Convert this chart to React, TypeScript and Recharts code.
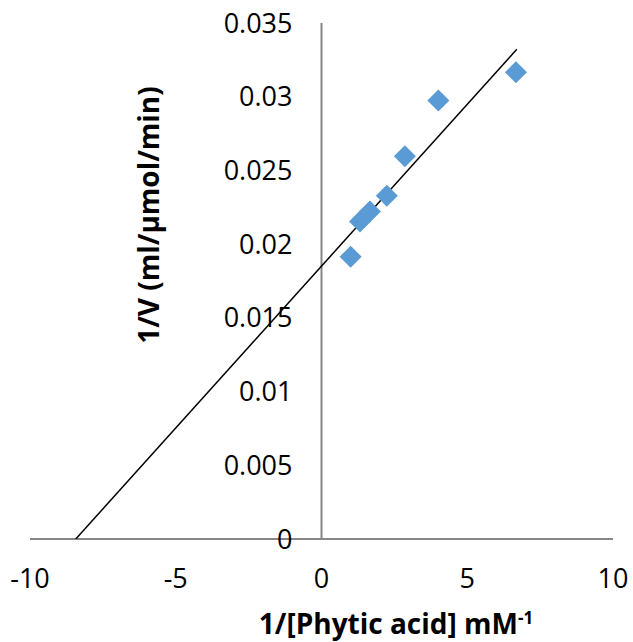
import { ScatterChart, Scatter, XAxis, YAxis, ReferenceLine, ReferenceDot } from 'recharts';

const invSubstrate = [1.0, 1.32, 1.66, 2.24, 2.86, 4.01, 6.67];
const invVelocity = [0.01915, 0.02153, 0.02221, 0.02329, 0.02596, 0.02974, 0.03166];

const trendX = [-8.43, 6.7];
const trendY = [0, 0.03322];

const xTicks = [-10, -5, 0, 5, 10];
const yTicks = [0, 0.005, 0.01, 0.015, 0.02, 0.025, 0.03, 0.035];
const yTickLabels = ['0', '0.005', '0.01', '0.015', '0.02', '0.025', '0.03', '0.035'];

const points = invSubstrate.map((x, i) => ({ x, y: invVelocity[i] }));
const trend = trendX.map((x, i) => ({ x, y: trendY[i] }));

const font = '"Open Sans", sans-serif';
const axisGrey = '#868686';

function Diamond(props: any) {
  const { cx, cy } = props;
  const r = 11;
  return (
    <polygon
      points={`${cx},${cy - r} ${cx + r},${cy} ${cx},${cy + r} ${cx - r},${cy}`}
      fill="#5B9BD5"
    />
  );
}

function XTick({ x, y, payload }: any) {
  return (
    <text x={x} y={y + 49} textAnchor="middle" fontSize={27} fontFamily={font} fill="#000">
      {payload.value}
    </text>
  );
}

export default function App() {
  return (
    <div style={{ position: 'absolute', left: 0, top: 0, width: 633, height: 642, background: '#fff', overflow: 'hidden' }}>
      <ScatterChart width={633} height={642} margin={{ top: 23, right: 20, left: 30, bottom: 43 }}>
        <XAxis
          type="number"
          dataKey="x"
          domain={[-10, 10]}
          ticks={xTicks}
          height={60}
          tickLine={false}
          tickSize={0}
          tickMargin={0}
          tick={<XTick />}
          axisLine={{ stroke: axisGrey, strokeWidth: 2 }}
          allowDataOverflow
        />
        <YAxis type="number" dataKey="y" domain={[0, 0.035]} hide allowDataOverflow />
        {yTicks.map((v, i) => (
          <ReferenceDot
            key={v}
            x={0}
            y={v}
            r={0.01}
            fill="none"
            stroke="none"
            ifOverflow="visible"
            label={{
              value: yTickLabels[i],
              position: 'left',
              offset: 29,
              fontSize: 27,
              fontFamily: font,
              fill: '#000',
            }}
          />
        ))}
        <ReferenceLine x={0} stroke={axisGrey} strokeWidth={2} />
        <Scatter
          data={trend}
          line={{ stroke: '#000', strokeWidth: 1.5 }}
          shape={() => null}
          isAnimationActive={false}
        />
        <Scatter data={points} shape={<Diamond />} isAnimationActive={false} />
      </ScatterChart>
      <div
        style={{
          position: 'absolute',
          left: 396 - 316.5,
          width: 633,
          top: 606,
          textAlign: 'center',
          fontFamily: font,
          fontWeight: 'bold',
          fontSize: 28,
          lineHeight: '34px',
          whiteSpace: 'nowrap',
        }}
      >
        1/[Phytic acid] mM<sup style={{ fontSize: 17, lineHeight: 0 }}>-1</sup>
      </div>
      <div
        style={{
          position: 'absolute',
          left: 148 - 200,
          top: 215 - 19,
          width: 400,
          height: 38,
          transform: 'rotate(-90deg)',
          textAlign: 'center',
          fontFamily: font,
          fontWeight: 'bold',
          fontSize: 28,
          lineHeight: '38px',
          whiteSpace: 'nowrap',
        }}
      >
        1/V (ml/µmol/min)
      </div>
    </div>
  );
}
